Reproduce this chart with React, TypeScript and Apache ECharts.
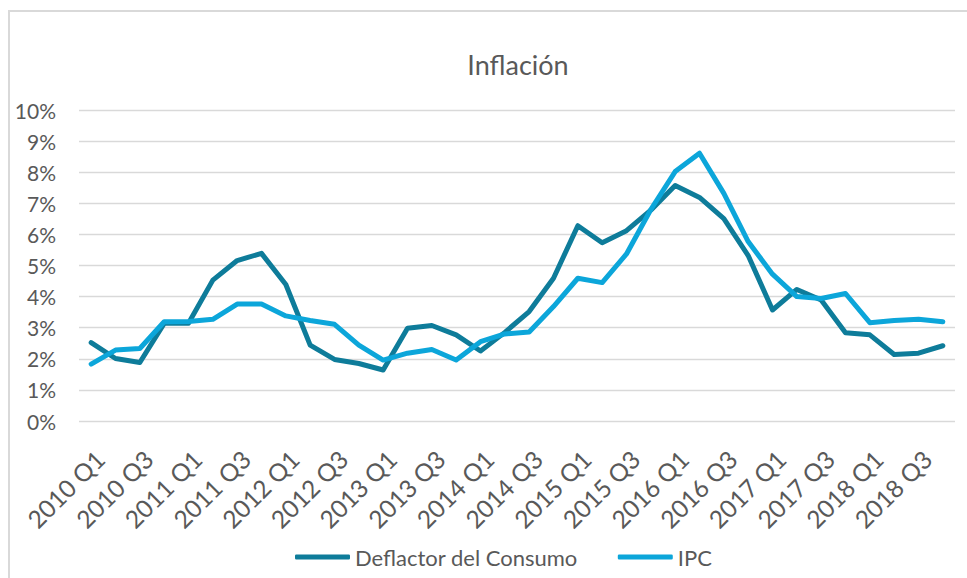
import React, { useEffect, useRef } from "react";
import * as echarts from "echarts";

const categories = [
  "2010 Q1", "2010 Q2", "2010 Q3", "2010 Q4",
  "2011 Q1", "2011 Q2", "2011 Q3", "2011 Q4",
  "2012 Q1", "2012 Q2", "2012 Q3", "2012 Q4",
  "2013 Q1", "2013 Q2", "2013 Q3", "2013 Q4",
  "2014 Q1", "2014 Q2", "2014 Q3", "2014 Q4",
  "2015 Q1", "2015 Q2", "2015 Q3", "2015 Q4",
  "2016 Q1", "2016 Q2", "2016 Q3", "2016 Q4",
  "2017 Q1", "2017 Q2", "2017 Q3", "2017 Q4",
  "2018 Q1", "2018 Q2", "2018 Q3", "2018 Q4",
];

const deflactor = [
  2.52, 2.01, 1.88, 3.14, 3.14, 4.53, 5.16, 5.39, 4.39, 2.44,
  1.98, 1.85, 1.64, 2.98, 3.07, 2.77, 2.25, 2.85, 3.52, 4.59,
  6.28, 5.73, 6.12, 6.78, 7.57, 7.19, 6.51, 5.32, 3.57, 4.23,
  3.89, 2.84, 2.77, 2.14, 2.18, 2.42,
];

const ipc = [
  1.83, 2.28, 2.33, 3.19, 3.2, 3.27, 3.76, 3.76, 3.38, 3.23,
  3.11, 2.44, 1.96, 2.18, 2.3, 1.96, 2.55, 2.8, 2.86, 3.68,
  4.59, 4.45, 5.37, 6.8, 8.02, 8.61, 7.32, 5.77, 4.72, 4.0,
  3.94, 4.1, 3.16, 3.23, 3.27, 3.19,
];

const seriesNames = ["Deflactor del Consumo", "IPC"];
const titleText = "Inflación";

const FONT = "Lato, 'Open Sans', sans-serif";
const TEXT = "#595959";
const DARK = "#0E7C9A";
const LIGHT = "#0CA6DA";

export default function App() {
  const ref = useRef<HTMLDivElement>(null);

  useEffect(() => {
    if (!ref.current) return;
    const chart = echarts.init(ref.current, null, { renderer: "svg" });
    chart.setOption({
      animation: false,
      backgroundColor: "#ffffff",
      textStyle: { fontFamily: FONT },
      title: {
        text: titleText,
        left: 513,
        top: 46,
        textAlign: "center",
        textStyle: { fontFamily: FONT, fontSize: 27, fontWeight: "normal", color: TEXT },
      },
      grid: { left: 79, right: 12, top: 110, bottom: 157, containLabel: false },
      legend: {
        left: 290,
        top: 541,
        itemWidth: 55,
        itemHeight: 5,
        itemGap: 40,
        icon: "roundRect",
        textStyle: { fontFamily: FONT, fontSize: 22, color: TEXT },
        data: seriesNames,
      },
      xAxis: {
        type: "category",
        data: categories,
        boundaryGap: true,
        axisLine: { show: false },
        axisTick: { show: false },
        axisLabel: {
          interval: 1,
          rotate: 45,
          align: "right",
          verticalAlign: "top",
          margin: 25,
          fontFamily: FONT,
          fontSize: 24.5,
          color: TEXT,
        },
      },
      yAxis: {
        type: "value",
        min: 0,
        max: 10,
        interval: 1,
        axisLine: { show: false },
        axisTick: { show: false },
        splitLine: { lineStyle: { color: "#d9d9d9", width: 1.3 } },
        axisLabel: {
          formatter: "{value}%",
          margin: 23,
          fontFamily: FONT,
          fontSize: 21,
          color: TEXT,
        },
      },
      graphic: [
        { type: "rect", shape: { x: 8, y: 10, width: 2, height: 568 }, style: { fill: "#d9d9d9" } },
        { type: "rect", shape: { x: 8, y: 10, width: 959, height: 2 }, style: { fill: "#d9d9d9" } },
      ],
      series: [
        {
          name: seriesNames[0],
          type: "line",
          data: deflactor,
          showSymbol: false,
          symbol: "none",
          color: DARK,
          lineStyle: { color: DARK, width: 5, join: "round", cap: "round" },
        },
        {
          name: seriesNames[1],
          type: "line",
          data: ipc,
          showSymbol: false,
          symbol: "none",
          color: LIGHT,
          lineStyle: { color: LIGHT, width: 5, join: "round", cap: "round" },
        },
      ],
    });
    return () => chart.dispose();
  }, []);

  return (
    <div
      ref={ref}
      style={{ position: "fixed", left: 0, top: 0, width: 967, height: 578 }}
    />
  );
}
